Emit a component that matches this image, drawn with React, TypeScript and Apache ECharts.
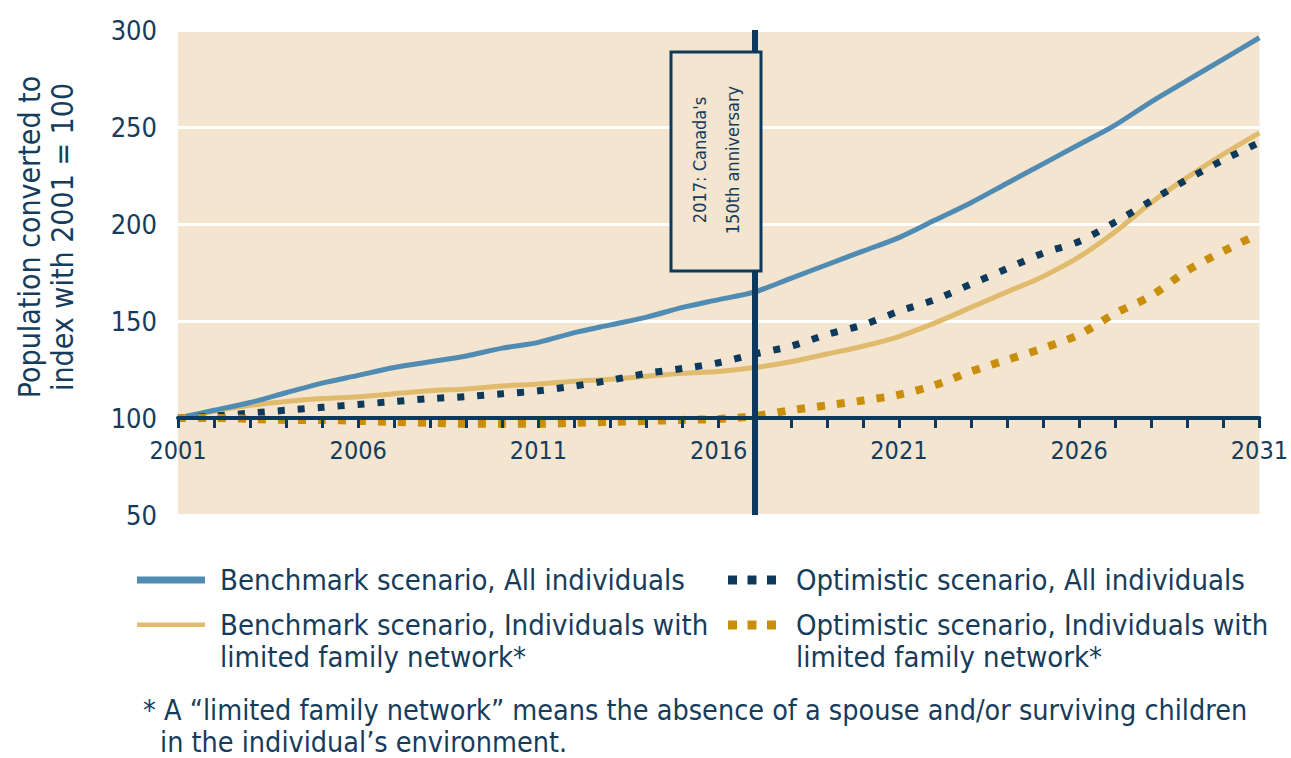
import React, { useEffect, useRef } from "react";
import * as echarts from "echarts";

const years = [
  2001, 2002, 2003, 2004, 2005, 2006, 2007, 2008, 2009, 2010, 2011, 2012, 2013, 2014, 2015, 2016,
  2017, 2018, 2019, 2020, 2021, 2022, 2023, 2024, 2025, 2026, 2027, 2028, 2029, 2030, 2031,
];
const benchmarkAll = [
  100, 104, 108, 113, 118, 122, 126, 129, 132, 136, 139, 144, 148, 152, 157, 161,
  165, 172, 179, 186, 193, 202, 211, 221, 231, 241, 251, 263, 274, 285, 296,
];
const optimisticAll = [
  100, 101, 102.5, 104, 105.5, 107, 108.5, 110, 111, 112.5, 114, 116.5, 119.5, 123, 125.5, 128.5,
  133, 137, 143, 148, 155, 161, 169, 177, 185, 191, 201, 212, 223, 233, 242,
];
const benchmarkLimited = [
  100, 103.5, 106.5, 108.5, 110, 111, 112.5, 114, 115, 116.5, 117.5, 119, 120, 121.5, 123, 124,
  126, 129, 133, 137, 142, 149, 157, 165, 173, 183, 196, 211, 224, 236, 247,
];
const optimisticLimited = [
  100, 100, 99.5, 99, 99, 98.5, 98, 97.5, 97, 97, 97, 97.5, 98, 98.5, 99, 99.5,
  101, 104, 106.5, 109, 112, 117, 124, 130, 136, 143, 154, 163, 176, 186, 195,
];
const seriesNames = [
  "Benchmark scenario, All individuals",
  "Optimistic scenario, All individuals",
  "Benchmark scenario, Individuals with\nlimited family network*",
  "Optimistic scenario, Individuals with\nlimited family network*",
];
const yMin = 50;
const yMax = 300;
const yInterval = 50;
const xMin = 2001;
const xMax = 2031;
const xInterval = 5;
const baselineValue = 100;
const eventYear = 2017;
const annotationText = "2017: Canada's\n150th anniversary";
const yTitle = "Population converted to\nindex with 2001 = 100";
const footnoteLine1 = "* A \u201climited family network\u201d means the absence of a spouse and/or surviving children";
const footnoteLine2 = "in the individual\u2019s environment.";

const FONT = "'Liberation Sans Narrow', 'DejaVu Sans Condensed', 'Arial Narrow', sans-serif";
const NAVY = "#0d3a5c";
const TEXT = "#163c5c";
const BLUE = "#4f8bb2";
const TAN = "#e0bb6e";
const GOLD = "#c98f0c";
const BEIGE = "#f3e5cf";

const GRID_TOP = 30;
const GRID_BOTTOM_Y = 515;
const GRID_LEFT = 178;
const GRID_RIGHT_X = 1265;

// legend icon shapes
const ICON_SOLID_THICK = "path://M0,0L68,0L68,7L0,7Z";
const ICON_DOTS = "path://M0,0L9,0L9,9L0,9Z M19.5,0L28.5,0L28.5,9L19.5,9Z M39,0L48,0L48,9L39,9Z";
const ICON_SOLID_TOP = "path://M0,0L68,0 M0,4.5L68,4.5L68,9L0,9Z M0,46L68,46";
const ICON_DOTS_TOP =
  "path://M0,0L48,0 M0,2.5L9,2.5L9,11.5L0,11.5Z M19.5,2.5L28.5,2.5L28.5,11.5L19.5,11.5Z M39,2.5L48,2.5L48,11.5L39,11.5Z M0,46L48,46";

function pairs(vals: number[]) {
  return years.map((y, i) => [y, vals[i]]);
}

export default function App() {
  const ref = useRef<HTMLDivElement>(null);
  useEffect(() => {
    if (!ref.current) return;
    const chart = echarts.init(ref.current, null, { renderer: "svg" });
    const gridH = GRID_BOTTOM_Y - GRID_TOP;
    const axisOffset = -gridH * (baselineValue - yMin) / (yMax - yMin);
    const legendText = {
      fontFamily: FONT,
      fontSize: 29,
      color: TEXT,
      lineHeight: 32,
    };
    const legendCommon = {
      padding: 0,
      selectedMode: false,
      symbolKeepAspect: false,
      itemStyle: { borderWidth: 0 },
    };
    chart.setOption({
      animation: false,
      backgroundColor: "#ffffff",
      grid: {
        left: GRID_LEFT,
        right: 1291 - GRID_RIGHT_X,
        top: GRID_TOP,
        bottom: 758 - GRID_BOTTOM_Y,
        show: true,
        backgroundColor: BEIGE,
        borderWidth: 0,
      },
      xAxis: {
        type: "value",
        min: xMin,
        max: xMax,
        interval: xInterval,
        offset: axisOffset,
        z: 5,
        axisLine: { show: true, lineStyle: { color: NAVY, width: 4 } },
        axisTick: { show: true, length: 10, lineStyle: { color: NAVY, width: 3 } },
        minorTick: { show: true, splitNumber: 5, length: 10, lineStyle: { color: NAVY, width: 3 } },
        splitLine: { show: false },
        axisLabel: {
          fontFamily: FONT,
          fontSize: 25,
          color: TEXT,
          margin: 20,
          formatter: (v: number) => String(v),
        },
      },
      yAxis: {
        type: "value",
        min: yMin,
        max: yMax,
        interval: yInterval,
        axisLine: { show: false },
        axisTick: { show: false },
        splitLine: { show: true, lineStyle: { color: "#ffffff", width: 3 } },
        axisLabel: { fontFamily: FONT, fontSize: 27, color: TEXT, margin: 21 },
      },
      legend: [
        {
          ...legendCommon,
          data: [{ name: seriesNames[0], icon: ICON_SOLID_THICK }], left: 137, top: 564,
          itemWidth: 68, itemHeight: 7, textStyle: { ...legendText, padding: [0, 0, 0, 10] },
        },
        {
          ...legendCommon,
          data: [{ name: seriesNames[1], icon: ICON_DOTS }], left: 728, top: 564,
          itemWidth: 48, itemHeight: 9, textStyle: { ...legendText, padding: [0, 0, 0, 15] },
        },
        {
          ...legendCommon,
          data: [{ name: seriesNames[2], icon: ICON_SOLID_TOP }], left: 137, top: 609,
          itemWidth: 68, itemHeight: 46, textStyle: { ...legendText, padding: [0, 0, 0, 10] },
        },
        {
          ...legendCommon,
          data: [{ name: seriesNames[3], icon: ICON_DOTS_TOP }], left: 728, top: 609,
          itemWidth: 48, itemHeight: 46, textStyle: { ...legendText, padding: [0, 0, 0, 15] },
        },
      ],
      series: [
        {
          name: seriesNames[2], type: "line", data: pairs(benchmarkLimited), smooth: 0.3,
          showSymbol: false, symbol: "none", z: 2,
          lineStyle: { color: TAN, width: 5 }, itemStyle: { color: TAN },
        },
        {
          name: seriesNames[0], type: "line", data: pairs(benchmarkAll), smooth: 0.3,
          showSymbol: false, symbol: "none", z: 2,
          lineStyle: { color: BLUE, width: 5 }, itemStyle: { color: BLUE },
        },
        {
          name: seriesNames[1], type: "line", data: pairs(optimisticAll), smooth: 0.3,
          showSymbol: false, symbol: "none", z: 3,
          lineStyle: { color: NAVY, width: 7, type: [7, 13] }, itemStyle: { color: NAVY },
        },
        {
          name: seriesNames[3], type: "line", data: pairs(optimisticLimited), smooth: 0.3,
          showSymbol: false, symbol: "none", z: 3,
          lineStyle: { color: GOLD, width: 8, type: [8, 12] }, itemStyle: { color: GOLD },
          markLine: {
            silent: true, symbol: "none", z: 10,
            label: { show: false },
            lineStyle: { color: NAVY, width: 6, type: "solid" },
            data: [{ xAxis: eventYear }],
          },
        },
      ],
      graphic: [
        {
          type: "rect", z: 20,
          shape: { x: 671, y: 52, width: 90, height: 219 },
          style: { fill: BEIGE, stroke: NAVY, lineWidth: 3 },
        },
        {
          type: "text", z: 21, x: 716, y: 160, rotation: Math.PI / 2,
          style: {
            text: annotationText, fontFamily: FONT, fontSize: 18, lineHeight: 33,
            fill: TEXT, align: "center", verticalAlign: "middle",
          },
        },
        {
          type: "text", x: 46, y: 237, rotation: Math.PI / 2,
          style: {
            text: yTitle, fontFamily: FONT, fontSize: 30, lineHeight: 33,
            fill: TEXT, align: "center", verticalAlign: "middle",
          },
        },
        {
          type: "text", x: 143, y: 710,
          style: {
            text: footnoteLine1, fontFamily: FONT, fontSize: 28.5, fill: TEXT,
            align: "left", verticalAlign: "middle",
          },
        },
        {
          type: "text", x: 160, y: 742,
          style: {
            text: footnoteLine2, fontFamily: FONT, fontSize: 28.5, fill: TEXT,
            align: "left", verticalAlign: "middle",
          },
        },
      ],
    });
    return () => chart.dispose();
  }, []);
  return (
    <div
      ref={ref}
      style={{ position: "fixed", left: 0, top: 0, width: 1291, height: 758, background: "#fff" }}
    />
  );
}
